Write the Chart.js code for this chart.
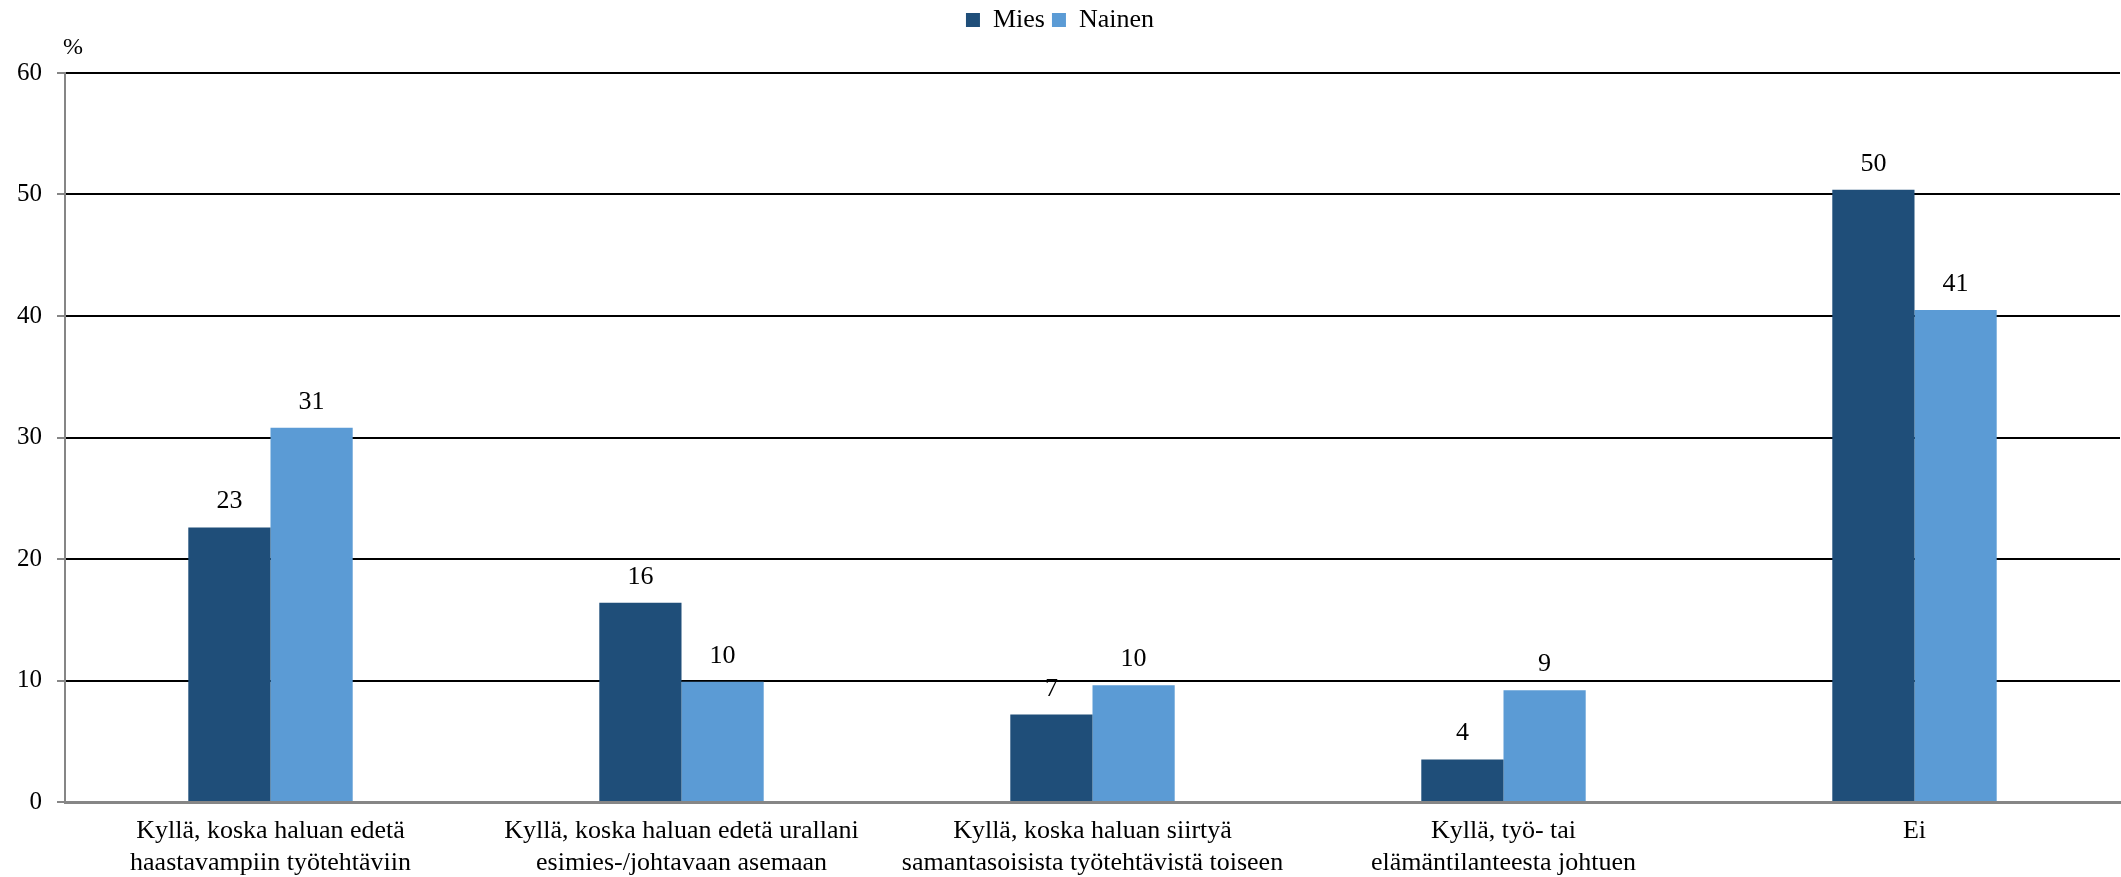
<!DOCTYPE html>
<html>
<head>
<meta charset="utf-8">
<script src="https://cdn.jsdelivr.net/npm/chart.js@4/dist/chart.umd.min.js"></script>
<style>
  html, body { margin: 0; padding: 0; background: #fff; }
  #wrap { width: 2121px; height: 877px; }
</style>
</head>
<body>
<div id="wrap"><canvas id="chart" width="2121" height="877"></canvas></div>
<script>
'use strict';

// ── data ──
const categories = [
    ['Kyllä, koska haluan edetä', 'haastavampiin työtehtäviin'],
    ['Kyllä, koska haluan edetä urallani', 'esimies-/johtavaan asemaan'],
    ['Kyllä, koska haluan siirtyä', 'samantasoisista työtehtävistä toiseen'],
    ['Kyllä, työ- tai', 'elämäntilanteesta johtuen'],
    ['Ei']
];
const miesValues   = [22.6, 16.4, 7.2, 3.5, 50.4];
const nainenValues = [30.8, 9.9, 9.6, 9.2, 40.5];
const yTicks = [0, 10, 20, 30, 40, 50, 60];

const FONT = '"Liberation Serif", "Times New Roman", serif';
const AXIS_GREY = '#868686';

// extra room under the legend so the plot starts lower
const legendGap = {
    id: 'legendGap',
    beforeInit(chart) {
        const fit = chart.legend.fit;
        chart.legend.fit = function () { fit.call(this); this.height += 30; };
    }
};

// value labels above bars + the "%" unit text
const barLabels = {
    id: 'barLabels',
    afterDatasetsDraw(chart) {
        const ctx = chart.ctx;
        ctx.save();
        ctx.font = '26px ' + FONT;
        ctx.fillStyle = '#000';
        ctx.textAlign = 'center';
        ctx.textBaseline = 'alphabetic';
        chart.data.datasets.forEach((ds, i) => {
            chart.getDatasetMeta(i).data.forEach((bar, j) => {
                ctx.fillText(String(Math.round(ds.data[j])), bar.x, bar.y - 19);
            });
        });
        ctx.font = '24px ' + FONT;
        ctx.textAlign = 'left';
        ctx.fillText('%', chart.chartArea.left - 2, chart.chartArea.top - 19);
        ctx.restore();
    }
};

new Chart(document.getElementById('chart'), {
    type: 'bar',
    data: {
        labels: categories,
        datasets: [
            { label: 'Mies',   data: miesValues,   backgroundColor: '#1F4E79' },
            { label: 'Nainen', data: nainenValues, backgroundColor: '#5B9BD5' }
        ]
    },
    options: {
        responsive: false,
        animation: false,
        devicePixelRatio: 1,
        layout: { padding: { top: 0, right: 1, left: 0, bottom: 0 } },
        datasets: { bar: { categoryPercentage: 0.4, barPercentage: 1.0 } },
        plugins: {
            legend: {
                position: 'top',
                labels: {
                    font: { family: FONT, size: 26 },
                    color: '#000',
                    boxWidth: 14, boxHeight: 14,
                    padding: 7
                }
            },
            tooltip: { enabled: false }
        },
        scales: {
            x: {
                grid: { display: true, drawOnChartArea: false, drawTicks: false },
                border: { display: true, color: AXIS_GREY, width: 3 },
                ticks: {
                    font: { family: FONT, size: 26, lineHeight: 1.2 },
                    color: '#000',
                    padding: 14,
                    maxRotation: 0, autoSkip: false
                },
                afterFit(scale) { scale.height = 75; }
            },
            y: {
                min: 0, max: 60,
                afterBuildTicks(scale) { scale.ticks = yTicks.map(v => ({ value: v })); },
                grid: {
                    color: c => (c.tick && c.tick.value === 0) ? 'rgba(0,0,0,0)' : '#000',
                    lineWidth: 2,
                    tickColor: AXIS_GREY,
                    tickLength: 8
                },
                border: { display: true, color: AXIS_GREY, width: 2 },
                ticks: {
                    font: { family: FONT, size: 25 },
                    color: '#000',
                    padding: 15
                },
                afterFit(scale) { scale.width = 65; }
            }
        }
    },
    plugins: [legendGap, barLabels]
});
</script>
</body>
</html>
